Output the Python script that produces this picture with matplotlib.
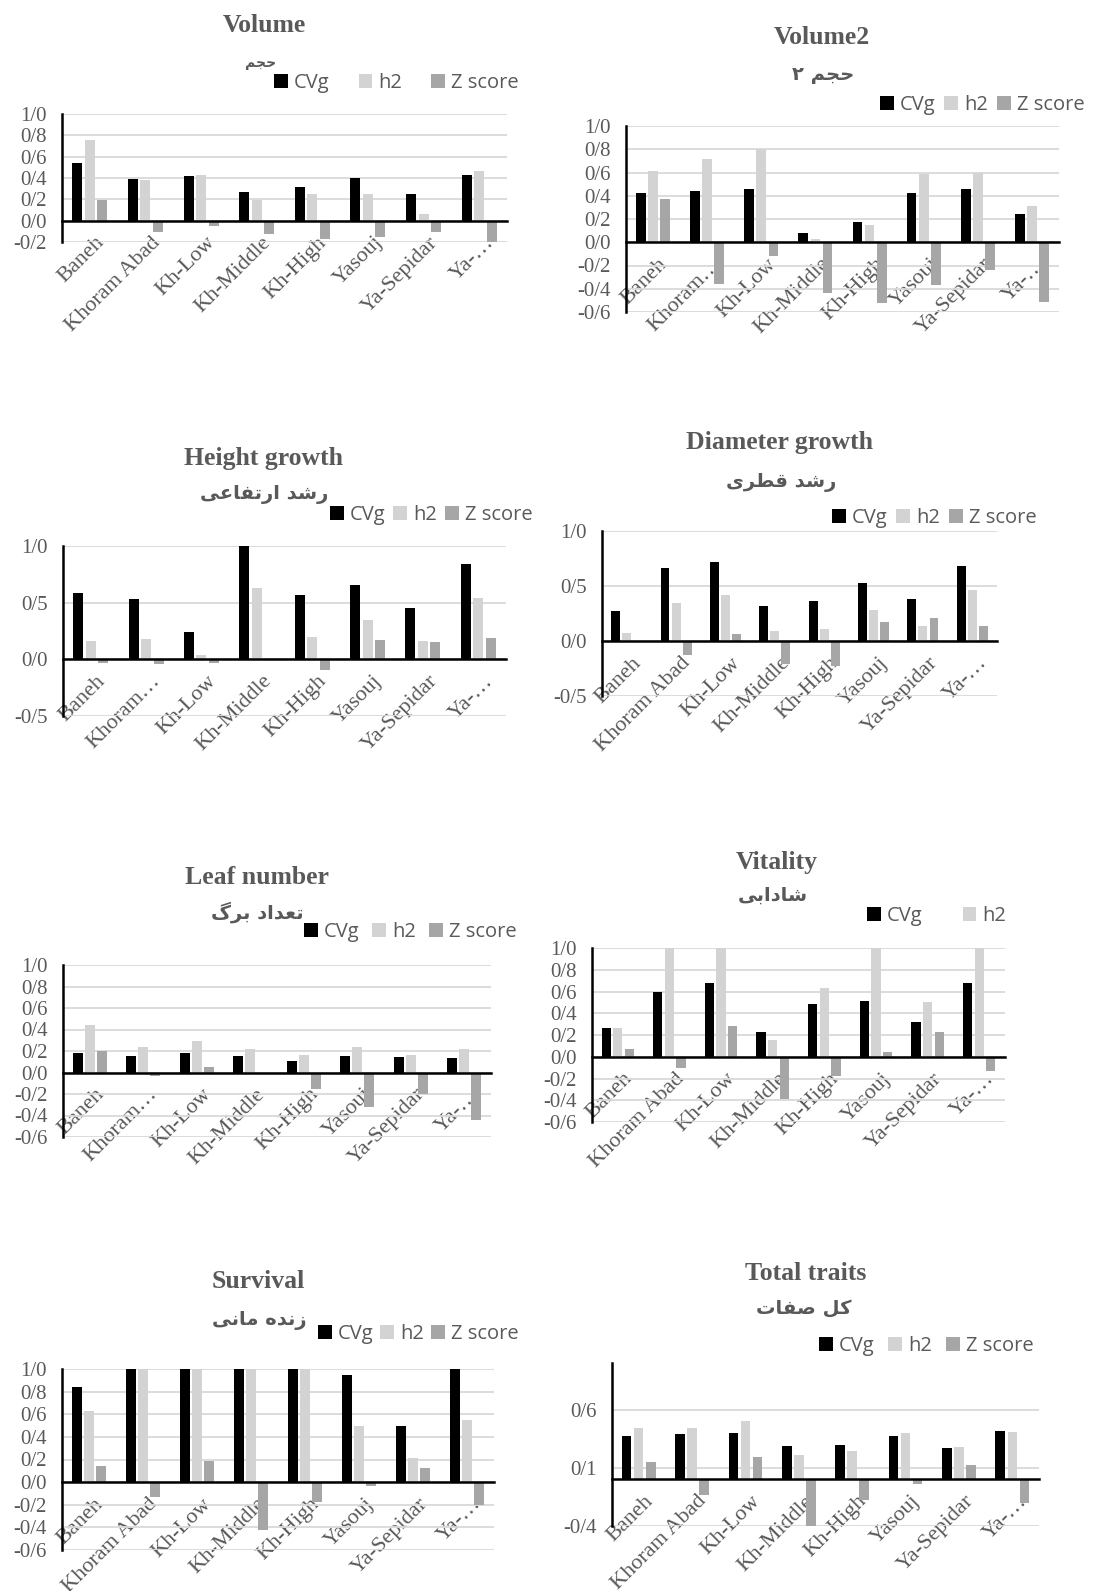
import matplotlib.pyplot as plt
import matplotlib.transforms as mtransforms
import numpy as np

W, H = 1110, 1591

# sites (x categories)
sites_full = ["Baneh", "Khoram Abad", "Kh-Low", "Kh-Middle", "Kh-High", "Yasouj", "Ya-Sepidar", "Ya-…"]
sites_cut = ["Baneh", "Khoram…", "Kh-Low", "Kh-Middle", "Kh-High", "Yasouj", "Ya-Sepidar", "Ya-…"]
series = ["CVg", "h2", "Z score"]

# values
volume_cvg = [0.54, 0.39, 0.42, 0.27, 0.32, 0.40, 0.25, 0.43]
volume_h2 = [0.76, 0.38, 0.43, 0.19, 0.25, 0.25, 0.065, 0.47]
volume_z = [0.19, -0.11, -0.05, -0.125, -0.17, -0.155, -0.11, -0.21]

volume2_cvg = [0.42, 0.44, 0.46, 0.083, 0.17, 0.42, 0.46, 0.24]
volume2_h2 = [0.61, 0.72, 0.80, 0.03, 0.15, 0.59, 0.60, 0.31]
volume2_z = [0.37, -0.36, -0.12, -0.44, -0.52, -0.37, -0.24, -0.51]

height_cvg = [0.585, 0.53, 0.24, 1.0, 0.565, 0.655, 0.45, 0.84]
height_h2 = [0.16, 0.18, 0.04, 0.63, 0.20, 0.35, 0.16, 0.54]
height_z = [-0.03, -0.04, -0.03, 0.0, -0.09, 0.17, 0.15, 0.19]

diam_cvg = [0.275, 0.66, 0.715, 0.32, 0.36, 0.53, 0.385, 0.68]
diam_h2 = [0.075, 0.35, 0.42, 0.088, 0.106, 0.28, 0.14, 0.46]
diam_z = [0.0, -0.125, 0.06, -0.21, -0.225, 0.175, 0.21, 0.136]

leaf_cvg = [0.18, 0.152, 0.18, 0.15, 0.11, 0.152, 0.146, 0.137]
leaf_h2 = [0.445, 0.24, 0.29, 0.22, 0.165, 0.233, 0.165, 0.22]
leaf_z = [0.20, -0.034, 0.05, 0.0, -0.15, -0.32, -0.20, -0.44]

vital_cvg = [0.26, 0.60, 0.68, 0.23, 0.485, 0.51, 0.32, 0.68]
vital_h2 = [0.26, 1.0, 1.0, 0.15, 0.63, 1.0, 0.50, 1.0]
vital_z = [0.074, -0.10, 0.28, -0.39, -0.175, 0.046, 0.23, -0.13]

surv_cvg = [0.845, 1.0, 1.0, 1.0, 1.0, 0.945, 0.50, 1.0]
surv_h2 = [0.625, 1.0, 1.0, 1.0, 1.0, 0.50, 0.215, 0.546]
surv_z = [0.14, -0.135, 0.185, -0.42, -0.176, -0.03, 0.126, -0.20]

total_cvg = [0.37, 0.394, 0.397, 0.29, 0.297, 0.37, 0.27, 0.42]
total_h2 = [0.44, 0.44, 0.50, 0.214, 0.243, 0.40, 0.277, 0.406]
total_z = [0.146, -0.134, 0.19, -0.41, -0.18, -0.037, 0.126, -0.20]

# Persian subtitles, pre-shaped glyphs in visual order
fa_volume = "\uFEE2\uFEA0\uFEA3"
fa_volume2 = "\u06F2 \uFEE2\uFEA0\uFEA3"
fa_height = "\uFBFD\uFECB\uFE8E\uFED4\uFE97\uFEAD\uFE8D \uFEAA\uFEB7\uFEAD"
fa_diam = "\uFBFC\uFEAE\uFEC4\uFED7 \uFEAA\uFEB7\uFEAD"
fa_leaf = "\uFB92\uFEAE\uFE91 \uFEA9\uFE8D\uFEAA\uFECC\uFE97"
fa_vital = "\uFBFD\uFE91\uFE8D\uFEA9\uFE8E\uFEB7"
fa_surv = "\uFBFD\uFEE7\uFE8E\uFEE3 \uFEE9\uFEAA\uFEE7\uFEAF"
fa_total = "\uFE95\uFE8E\uFED4\uFEBB \uFEDE\uFB90"

colors = ["#000000", "#d3d3d3", "#a6a6a6"]
grey = "#595959"
serif = "Liberation Serif"

fig = plt.figure(figsize=(W / 100, H / 100), dpi=100)


def fx(x):
    return x / W


def fy(y):
    return 1 - y / H


def panel(box, title, title_xy, sub, sub_xy, sub_size, leg_xy, leg_cs, labels,
          cvg, h2, z, yticks, ylim, n_leg=3):
    l, t, r, b = box
    ax = fig.add_axes([fx(l), fy(b), (r - l) / W, (b - t) / H])
    # spine position first, it resets the ticks
    for s in ["top", "right"]:
        ax.spines[s].set_visible(False)
    ax.spines["bottom"].set_position(("data", 0))
    ax.spines["bottom"].set_linewidth(1.8)
    ax.spines["left"].set_linewidth(1.8)

    x = np.arange(len(labels))
    bars = []
    for k, vals in enumerate([cvg, h2, z]):
        bars.append(ax.bar(x + (k - 1) * 0.225, vals, 0.18, color=colors[k],
                           label=series[k], zorder=2))
    ax.set_xlim(-0.5, len(labels) - 0.5)
    ax.set_ylim(*ylim)
    ax.set_yticks(yticks)
    ax.set_yticklabels([f"{v:.1f}".replace(".", "/") for v in yticks],
                       family=serif, fontsize=15, color=grey)
    ax.set_xticks(x)
    ax.set_xticklabels(labels, rotation=45, ha="right", va="top",
                       rotation_mode="anchor", family=serif, fontsize=16, color=grey)
    ax.tick_params(axis="x", length=0, pad=9)
    ax.tick_params(axis="y", length=0, pad=11)
    # nudge the category labels a little to the right, as in the original
    shift = mtransforms.ScaledTranslation(5 / 100, 0, fig.dpi_scale_trans)
    for lab in ax.get_xticklabels():
        lab.set_transform(lab.get_transform() + shift)
    ax.yaxis.grid(True, color="#d9d9d9", lw=1.3, zorder=0)
    ax.set_axisbelow(True)
    ax.patch.set_alpha(0)

    fig.text(fx(title_xy[0]), fy(title_xy[1]), title, ha="center", va="center",
             family=serif, fontweight="bold", fontsize=18.5, color=grey)
    fig.text(fx(sub_xy[0]), fy(sub_xy[1]), sub, ha="center", va="center",
             family="DejaVu Sans", fontweight="bold", fontsize=sub_size, color=grey)
    fig.legend(bars[:n_leg], series[:n_leg], loc="center left",
               bbox_to_anchor=(fx(leg_xy[0]), fy(leg_xy[1])), ncol=n_leg,
               frameon=False, handlelength=0.68, handleheight=0.68,
               handletextpad=0.3, columnspacing=leg_cs, borderpad=0,
               borderaxespad=0, prop={"family": "Open Sans", "size": 14.5},
               labelcolor=grey)
    return ax


tk2 = np.round(np.arange(-0.2, 1.01, 0.2), 1)
tk6 = np.round(np.arange(-0.6, 1.01, 0.2), 1)
tk5 = [-0.5, 0.0, 0.5, 1.0]

panel((62, 114, 507, 242), "Volume", (264, 25), fa_volume, (261, 63), 10,
      (274, 83), 1.45, sites_full, volume_cvg, volume_h2, volume_z, tk2, (-0.2, 1.0))
panel((626, 126, 1059, 312), "Volume2", (822, 37), fa_volume2, (823, 75), 14,
      (880, 105), 0.45, sites_cut, volume2_cvg, volume2_h2, volume2_z, tk6, (-0.6, 1.0))
panel((63, 546, 506, 716), "Height growth", (263, 458), fa_height, (264, 495), 14,
      (330, 515), 0.4, sites_cut, height_cvg, height_h2, height_z, tk5, (-0.5, 1.0))
panel((602, 531, 997, 696), "Diameter growth", (780, 443), fa_diam, (781, 482), 14,
      (832, 518), 0.45, sites_full, diam_cvg, diam_h2, diam_z, tk5, (-0.5, 1.0))
panel((63, 965, 491, 1137), "Leaf number", (257, 878), fa_leaf, (257, 912), 14,
      (304, 932), 0.65, sites_cut, leaf_cvg, leaf_h2, leaf_z, tk6, (-0.6, 1.0))
panel((592, 948, 1005, 1122), "Vitality", (777, 862), fa_vital, (773, 895), 14,
      (867, 916), 2.0, sites_full, vital_cvg, vital_h2, vital_z, tk6, (-0.6, 1.0), n_leg=2)
panel((62, 1369, 494, 1550), "Survival", (258, 1282), fa_surv, (259, 1321), 14,
      (318, 1334), 0.35, sites_full, surv_cvg, surv_h2, surv_z, tk6, (-0.6, 1.0))
panel((612, 1363, 1039, 1526), "Total traits", (806, 1273), fa_total, (804, 1308), 14,
      (819, 1346), 0.7, sites_full, total_cvg, total_h2, total_z, [-0.4, 0.1, 0.6], (-0.4, 1.0))

fig.savefig("out.png", dpi=100, facecolor="white")
